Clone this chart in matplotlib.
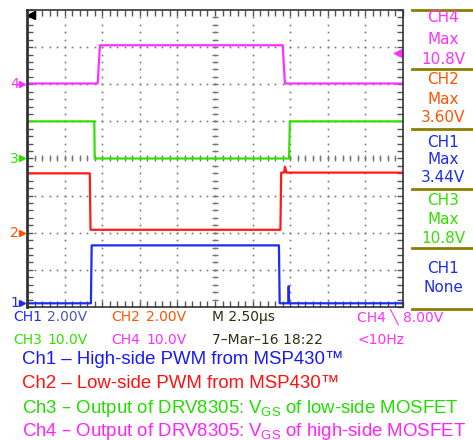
import numpy as np
import matplotlib.pyplot as plt
from matplotlib import font_manager

# tiempo en divisiones (0-10), nivel en divisiones desde abajo (0-8)
ch4_t = [0, 1.88, 1.94, 6.80, 6.86, 10]
ch4_v = [6.02, 6.02, 7.05, 7.05, 6.02, 6.02]
ch3_t = [0, 1.79, 1.80, 6.97, 6.99, 10]
ch3_v = [5.0, 5.0, 4.0, 4.0, 5.0, 5.0]
ch2_t = [0, 1.67, 1.69, 6.74, 6.76, 6.84, 6.86, 6.90, 10]
ch2_v = [3.6, 3.6, 2.08, 2.08, 3.62, 3.62, 3.78, 3.62, 3.62]
ch1_t = [0, 1.70, 1.72, 6.70, 6.72, 6.95, 6.96, 6.97, 10]
ch1_v = [0.1, 0.1, 1.66, 1.66, 0.1, 0.1, 0.56, 0.1, 0.1]

ref_levels = [6.0, 4.0, 2.0, 0.1]
ref_labels = ["4", "3", "2", "1"]

c_ch1 = "#1c2cf0"
c_ch2 = "#ff1a1a"
c_ch2txt = "#ff5500"
c_ch3 = "#33e000"
c_ch4 = "#ff30ff"
olive = "#8a7d00"
dark = "#303010"

side_lines = [["CH4", "Max", "10.8V"], ["CH2", "Max", "3.60V"],
              ["CH1", "Max", "3.44V"], ["CH3", "Max", "10.8V"], ["CH1", "None"]]
side_colors = [c_ch4, c_ch2txt, c_ch1, c_ch3, c_ch1]

# fuente estrecha si existe
installed = set(f.name for f in font_manager.fontManager.ttflist)
narrow = [f for f in ["Liberation Sans Narrow", "DejaVu Sans Condensed"] if f in installed]
narrow = narrow + ["DejaVu Sans"]

fig = plt.figure(figsize=(4.73, 4.40), dpi=100)
W, H = 473, 440
ax = fig.add_axes([27 / W, 1 - 307 / H, 376 / W, 297 / H])
ax.set_xlim(0, 10)
ax.set_ylim(0, 8)

# reticula punteada
for gx in range(1, 10):
    yy = np.arange(0.2, 8, 0.2)
    ax.plot([gx] * len(yy), yy, ls="none", marker="s", ms=1.2, color="#777777", mew=0)
for gy in range(1, 8):
    xx = np.arange(0.2, 10, 0.2)
    ax.plot(xx, [gy] * len(xx), ls="none", marker="s", ms=1.2, color="#777777", mew=0)
# ejes centrales con marcas
yy = np.arange(0.2, 8, 0.2)
ax.plot([5] * len(yy), yy, ls="none", marker="_", ms=5, color="#777777", mew=1)
xx = np.arange(0.2, 10, 0.2)
ax.plot(xx, [4] * len(xx), ls="none", marker="|", ms=5, color="#777777", mew=1)

# trazas
ax.plot(ch4_t, ch4_v, color=c_ch4, lw=1.6)
ax.plot(ch3_t, ch3_v, color=c_ch3, lw=1.6)
ax.plot(ch2_t, ch2_v, color=c_ch2, lw=1.6)
ax.plot(ch1_t, ch1_v, color=c_ch1, lw=1.6)

ax.set_xticks(np.arange(0, 10.01, 0.2))
ax.set_yticks(np.arange(0, 8.01, 0.2))
ax.tick_params(direction="in", length=4, width=1, color="#555555",
               top=True, right=True, labelbottom=False, labelleft=False)
for s in ax.spines.values():
    s.set_color("#333333")
    s.set_linewidth(1.2)
ax.spines["left"].set_linewidth(2)

# marcadores de referencia
ref_colors = [c_ch4, c_ch3, c_ch2txt, c_ch1]
for lv, lb, cc in zip(ref_levels, ref_labels, ref_colors):
    ax.text(-0.33, lv, lb, color=cc, fontsize=10, ha="center", va="center",
            family=narrow, clip_on=False)
    ax.plot([-0.12], [lv], marker=">", ms=4, color=cc, clip_on=False)
ax.plot([0.1], [7.87], marker="<", ms=6, color="black", clip_on=False)
ax.plot([9.86], [6.84], marker="<", ms=6, color=c_ch4, clip_on=False)

# panel derecho
seps = [10, 69, 129, 189, 248, 309]
for sy in seps:
    fig.add_artist(plt.Line2D([412 / W, 1], [1 - sy / H] * 2, color=olive, lw=2))
centers = [[18, 39, 59], [79, 99, 118], [142, 160, 178], [200, 219, 238], [268, 287]]
for lines, ys, cc in zip(side_lines, centers, side_colors):
    for t, y in zip(lines, ys):
        fig.text(443 / W, 1 - y / H, t, color=cc, fontsize=11, ha="center",
                 va="center", family=narrow)

# lecturas inferiores
row1 = 1 - 317 / H
row2 = 1 - 340 / H
fs = 10
fig.text(13 / W, row1, "CH1", color=c_ch1, fontsize=fs, va="center", family=narrow)
fig.text(47 / W, row1, "2.00V", color="#4a58b0", fontsize=fs, va="center", family=narrow)
fig.text(111 / W, row1, "CH2", color=c_ch2txt, fontsize=fs, va="center", family=narrow)
fig.text(146 / W, row1, "2.00V", color=c_ch2txt, fontsize=fs, va="center", family=narrow)
fig.text(212 / W, row1, "M 2.50\u00b5s", color=dark, fontsize=fs, va="center", family=narrow)
fig.text(357 / W, row1, "CH4 \u2572 8.00V", color=c_ch4, fontsize=fs, va="center", family=narrow)
fig.text(13 / W, row2, "CH3", color=c_ch3, fontsize=fs, va="center", family=narrow)
fig.text(47 / W, row2, "10.0V", color=c_ch3, fontsize=fs, va="center", family=narrow)
fig.text(111 / W, row2, "CH4", color=c_ch4, fontsize=fs, va="center", family=narrow)
fig.text(146 / W, row2, "10.0V", color=c_ch4, fontsize=fs, va="center", family=narrow)
fig.text(212 / W, row2, "7\u2013Mar\u201316 18:22", color=dark, fontsize=fs, va="center", family=narrow)
fig.text(357 / W, row2, "<10Hz", color=c_ch4, fontsize=fs, va="center", family=narrow)

# leyenda
captions = ["Ch1 \u2013 High-side PWM from MSP430\u2122",
            "Ch2 \u2013 Low-side PWM from MSP430\u2122",
            "Ch3 \u2013 Output of DRV8305: V$_{\\mathregular{GS}}$ of low-side MOSFET",
            "Ch4 \u2013 Output of DRV8305: V$_{\\mathregular{GS}}$ of high-side MOSFET"]
cap_colors = ["#1a1aee", "#ff1010", "#22dd00", "#ff22ff"]
cap_y = [359, 384, 408, 431]
for t, cc, y in zip(captions, cap_colors, cap_y):
    fig.text(22 / W, 1 - y / H, t, color=cc, fontsize=13.4, va="center",
             family=["Liberation Sans", "DejaVu Sans"])

fig.savefig("out.png", dpi=100)
